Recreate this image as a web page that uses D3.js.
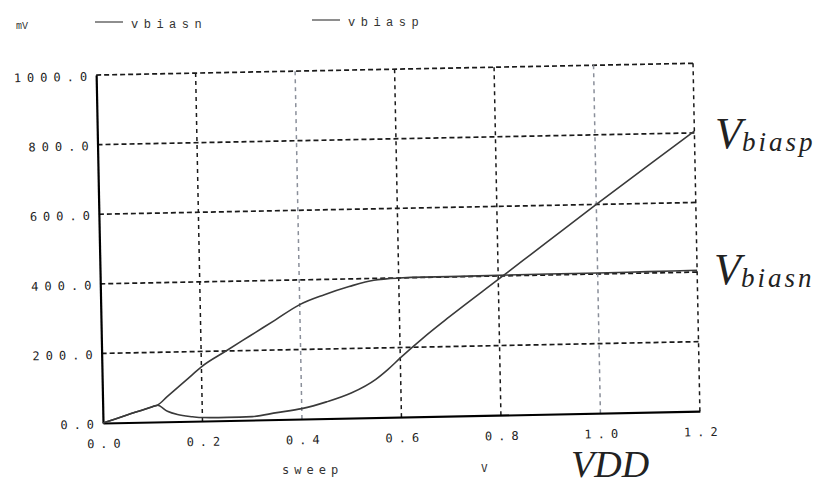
<!DOCTYPE html>
<html>
<head>
<meta charset="utf-8">
<script src="https://cdn.jsdelivr.net/npm/d3@7"></script>
<style>
  html, body { margin: 0; padding: 0; background: #fff; }
  svg { display: block; }
</style>
</head>
<body>
<svg id="chart" width="820" height="485"></svg>
<script>
// ---- data ----
const sweep  = [0, 0.05, 0.1, 0.11, 0.13, 0.15, 0.18, 0.2, 0.25, 0.3, 0.35, 0.4, 0.45, 0.5, 0.55, 0.575, 0.6, 0.65, 0.7, 0.8, 0.9, 1.0, 1.1, 1.2];
const vbiasn = [0, 22, 44, 48, 72, 96, 132, 156, 200, 243, 286, 329, 356, 378, 395, 398, 400, 401, 401, 402, 403, 403, 404, 405];
const vbiasp = [0, 22, 44, 48, 30, 20, 13, 10, 9, 10, 20, 30, 48, 72, 110, 138, 170, 230, 285, 390, 495, 600, 703, 805];
const xTicks = [0, 0.2, 0.4, 0.6, 0.8, 1.0, 1.2];
const xTickLabels = ["0.0", "0.2", "0.4", "0.6", "0.8", "1.0", "1.2"];
const yTicks = [0, 200, 400, 600, 800, 1000];
const yTickLabels = ["0.0", "200.0", "400.0", "600.0", "800.0", "1000.0"];
const legendNames = ["vbiasn", "vbiasp"];

// ---- layout ----
const svg = d3.select("#chart");
const L = 103, R = 700, T = 75, B = 423;
const x = d3.scaleLinear().domain([0, 1.2]).range([L, R]);
const y = d3.scaleLinear().domain([0, 1000]).range([B, T]);

// slight scan skew of the original
const g = svg.append("g").attr("transform", `rotate(-1.13, ${L}, ${B})`);

const ink = "#1a1a1a";
// grid lines (dashed)
g.append("g").selectAll("line").data(yTicks.filter(d => d > 0)).join("line")
  .attr("x1", L).attr("x2", R).attr("y1", d => y(d)).attr("y2", d => y(d))
  .attr("stroke", ink).attr("stroke-width", 1.7).attr("stroke-dasharray", "5,3");
g.append("g").selectAll("line").data(xTicks.filter(d => d > 0)).join("line")
  .attr("x1", d => x(d)).attr("x2", d => x(d)).attr("y1", T).attr("y2", B)
  .attr("stroke", (d, i) => (i === 1 || i === 4) ? "#8a8f9a" : ink)
  .attr("stroke-width", 1.5).attr("stroke-dasharray", "4,4");

// axes (solid)
const xAxis = d3.axisBottom(x).tickValues(xTicks).tickFormat((d, i) => xTickLabels[i]).tickSize(0).tickPadding(0);
const yAxis = d3.axisLeft(y).tickValues(yTicks).tickFormat((d, i) => yTickLabels[i]).tickSize(0).tickPadding(0);
const gx = g.append("g").attr("transform", `translate(0,${B})`).call(xAxis);
const gy = g.append("g").attr("transform", `translate(${L},0)`).call(yAxis);
[gx, gy].forEach(a => {
  a.select(".domain").attr("stroke", "#000").attr("stroke-width", 2.2);
  a.selectAll("text")
    .attr("font-family", "DejaVu Sans Mono, monospace")
    .attr("font-size", 12).attr("fill", "#222")
    .attr("letter-spacing", "6px");
});
gx.selectAll("text").attr("y", 25).attr("dy", 0).attr("dx", 3).attr("text-anchor", "middle");
gy.selectAll("text").attr("x", -3).attr("dy", 0).attr("y", 5).attr("text-anchor", "end");

// series
const line = d3.line().x(d => x(d[0])).y(d => y(d[1])).curve(d3.curveMonotoneX);
[vbiasn, vbiasp].forEach(vals => {
  g.append("path")
    .datum(sweep.map((s, i) => [s, vals[i]]))
    .attr("fill", "none").attr("stroke", "#3a3a3a").attr("stroke-width", 1.6)
    .attr("d", line);
});

// legend
const lg = svg.append("g").attr("font-family", "Liberation Mono, monospace").attr("fill", "#333");
lg.append("text").attr("x", 16).attr("y", 29).attr("font-size", 10).text("mV");
const legX = [95, 312], legY = [22, 20];
legendNames.forEach((n, i) => {
  lg.append("line").attr("x1", legX[i]).attr("x2", legX[i] + 28)
    .attr("y1", legY[i]).attr("y2", legY[i]).attr("stroke", "#444").attr("stroke-width", 1.2);
  lg.append("text").attr("x", legX[i] + 36).attr("y", legY[i] + 5.5)
    .attr("font-size", 12).attr("letter-spacing", "5.5px").text(n);
});

// axis captions
svg.append("text").attr("x", 282).attr("y", 474).attr("font-family", "DejaVu Sans Mono, monospace")
  .attr("font-size", 12).attr("letter-spacing", "5px").attr("fill", "#333").text("sweep");
svg.append("text").attr("x", 481).attr("y", 472).attr("font-family", "DejaVu Sans Mono, monospace")
  .attr("font-size", 11).attr("fill", "#333").text("V");
svg.append("text").attr("x", 571).attr("y", 476.5).attr("font-family", "Liberation Serif, serif")
  .attr("font-style", "italic").attr("font-size", 38).attr("fill", "#222").text("VDD");

// curve annotations
function vlabel(xp, yp, sub) {
  const t = svg.append("text").attr("x", xp).attr("y", yp)
    .attr("font-family", "Liberation Serif, serif").attr("font-style", "italic").attr("fill", "#222");
  t.append("tspan").attr("font-size", 44).text("V");
  t.append("tspan").attr("font-size", 27).attr("dy", 3).attr("letter-spacing", "3px").text(sub);
}
vlabel(715, 148, "biasp");
vlabel(714, 284, "biasn");
</script>
</body>
</html>
